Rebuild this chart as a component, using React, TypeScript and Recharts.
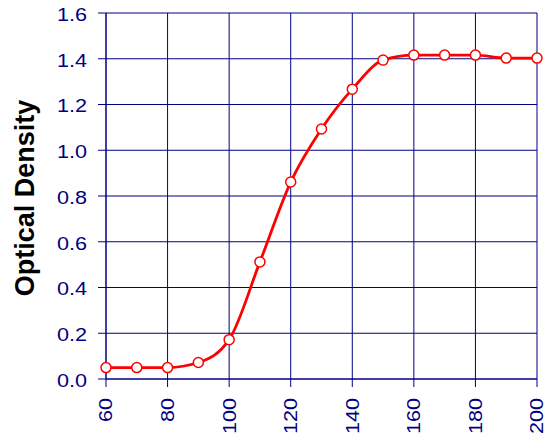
import React from 'react';
import { LineChart, Line, XAxis, YAxis, CartesianGrid } from 'recharts';

const temperatures = [60, 70, 80, 90, 100, 110, 120, 130, 140, 150, 160, 170, 180, 190, 200];
const opticalDensity = [0.05, 0.05, 0.05, 0.072, 0.172, 0.512, 0.861, 1.093, 1.267, 1.394, 1.416, 1.416, 1.416, 1.403, 1.403];
const xTicks = [60, 80, 100, 120, 140, 160, 180, 200];
const yTicks = [0, 0.2, 0.4, 0.6, 0.8, 1.0, 1.2, 1.4, 1.6];
const yLabel = 'Optical Density';

const data = temperatures.map((t, i) => ({ x: t, od: opticalDensity[i] }));

const NAVY = '#000080';
const FONT = '"Liberation Sans", Arial, sans-serif';
const TICK_FONT = 18;
const STRETCH = 1.2;

const XTick = (props: any) => {
  const { x, y, payload } = props;
  return (
    <text
      x={0}
      y={0}
      transform={`translate(${x}, ${y}) rotate(-90) scale(${STRETCH}, 1)`}
      textAnchor="end"
      dy="0.36em"
      fill={NAVY}
      fontSize={TICK_FONT}
      fontFamily={FONT}
    >
      {payload.value}
    </text>
  );
};

const YTick = (props: any) => {
  const { x, y, payload } = props;
  return (
    <text
      x={0}
      y={0}
      transform={`translate(${x}, ${y}) scale(${STRETCH}, 1)`}
      textAnchor="end"
      dy="0.44em"
      fill={NAVY}
      fontSize={TICK_FONT}
      fontFamily={FONT}
    >
      {Number(payload.value).toFixed(1)}
    </text>
  );
};

const YLabel = (props: any) => {
  const { viewBox } = props;
  const cx = viewBox.x + 24;
  const cy = viewBox.y + viewBox.height / 2 + 2;
  return (
    <text
      x={cx}
      y={cy}
      transform={`rotate(-90, ${cx}, ${cy})`}
      textAnchor="middle"
      dy="0.355em"
      fill="#000000"
      fontSize={27}
      fontWeight="bold"
      fontFamily={FONT}
    >
      {yLabel}
    </text>
  );
};

export default function App() {
  return (
    <div style={{ position: 'absolute', left: 0, top: 0, background: '#fff' }}>
      <LineChart
        width={556}
        height={439}
        data={data}
        margin={{ top: 13, right: 19, bottom: 0, left: 0 }}
      >
        <CartesianGrid stroke={NAVY} strokeWidth={1} />
        <XAxis
          dataKey="x"
          type="number"
          domain={[60, 200]}
          ticks={xTicks}
          height={60}
          stroke={NAVY}
          tickSize={8}
          tickMargin={11}
          tick={<XTick />}
          tickLine={{ stroke: NAVY }}
          axisLine={{ stroke: NAVY }}
          interval={0}
        />
        <YAxis
          type="number"
          domain={[0, 1.6]}
          ticks={yTicks}
          width={106}
          stroke={NAVY}
          tickSize={8}
          tickMargin={11}
          tick={<YTick />}
          tickLine={{ stroke: NAVY }}
          axisLine={{ stroke: NAVY }}
          interval={0}
          label={<YLabel />}
        />
        <Line
          type="monotone"
          dataKey="od"
          stroke="#ff0000"
          strokeWidth={2.8}
          dot={{ r: 5, fill: '#ffffff', stroke: '#ff0000', strokeWidth: 1.5 }}
          isAnimationActive={false}
        />
      </LineChart>
    </div>
  );
}
